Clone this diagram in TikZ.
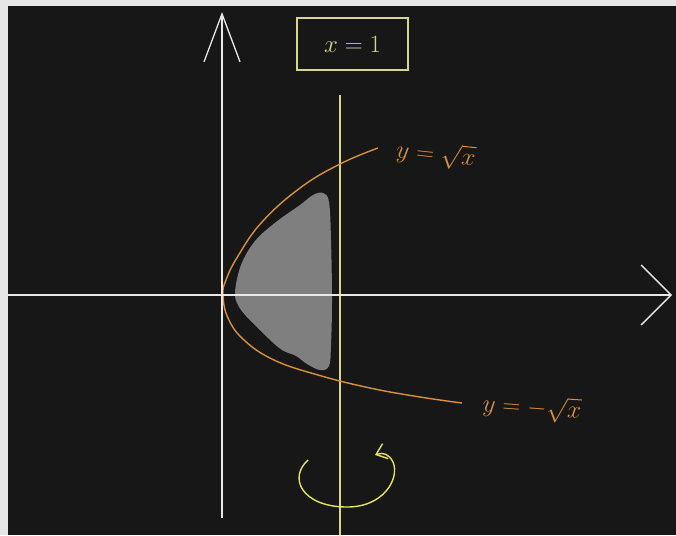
\documentclass[tikz,border=0pt]{standalone}
\usetikzlibrary{arrows.meta}

\definecolor{frame}{HTML}{E6E6E6}
\definecolor{board}{HTML}{171717}
\definecolor{chalkwhite}{HTML}{E8E8E8}
\definecolor{chalkorange}{HTML}{D8913C}
\definecolor{chalkyellow}{HTML}{D6D68C}
\definecolor{chalklime}{HTML}{E4E45C}
\definecolor{regiongray}{HTML}{7F7F7F}

\begin{document}
\begin{tikzpicture}[x=1pt, y=-1pt,
    axis/.style={draw=chalkwhite, line width=1.3pt},
    curve/.style={draw=chalkorange, line width=1.4pt},
    label/.style={text=chalkorange, font=\fontsize{24}{28}\selectfont}]
        % Board
        \useasboundingbox (0,0) rectangle (676,535);
        \fill[frame] (0,0) rectangle (676,535);
        \fill[board] (8,6) rectangle (676,535);

        \coordinate (xstart) at (8, 295);
        \coordinate (xend) at (672, 295);
        \coordinate (ystart) at (222, 518);
        \coordinate (yend) at (222, 12);
        \coordinate (lbot) at (340, 535);
        \coordinate (ltop) at (340, 95);

        % Region
        \fill[regiongray] plot[smooth cycle, tension=0.6] coordinates {
            (235,292) (241,265) (255,241) (276,222) (300,205) (313,195)
            (323,193) (329,202) (331,240) (332,300) (331,345) (329,366)
            (320,370) (307,364) (296,356) (282,350) (268,338) (256,326)
            (246,316) (238,305)};

        % Line x = 1
        \draw[chalkyellow, line width=1.2pt] (lbot) -- (ltop);
        \node [draw=chalkyellow, line width=1.3pt, text=chalkyellow,
            minimum width=111pt, minimum height=52pt,
            font=\fontsize{30}{34}\selectfont] (xeq) at (352.5, 44) {$x=1$};

        % Parabola
        \draw[curve] plot[smooth, tension=0.7] coordinates {
            (378,148) (340,164) (300,188) (262,222) (238,256) (226,280)
            (223,295) (228,318) (244,340) (274,360) (318,375) (370,388)
            (420,397) (462,403)};
        \node [label, rotate=-6] (upper) at (436, 155) {$y=\sqrt{x}$};
        \node [label, rotate=-4] (lower) at (532, 408) {$y=-\sqrt{x}$};

        % Axes
        \draw[axis, -{Straight Barb[length=30pt, width=60pt, line width=1.3pt]}]
            (xstart) -- (xend);
        \draw[axis, -{Straight Barb[length=48pt, width=36pt, line width=1.3pt]}]
            (ystart) -- (yend);

        % Rotation
        \draw[chalklime, line width=1.4pt,
            -{Straight Barb[length=10pt, width=16pt, line width=1.4pt]}]
            (308,460) .. controls (288,478) and (302,506) .. (345,507)
            .. controls (384,508) and (400,478) .. (393,462)
            .. controls (389,454) and (383,452) .. (375,455);
    \end{tikzpicture}
\end{document}
